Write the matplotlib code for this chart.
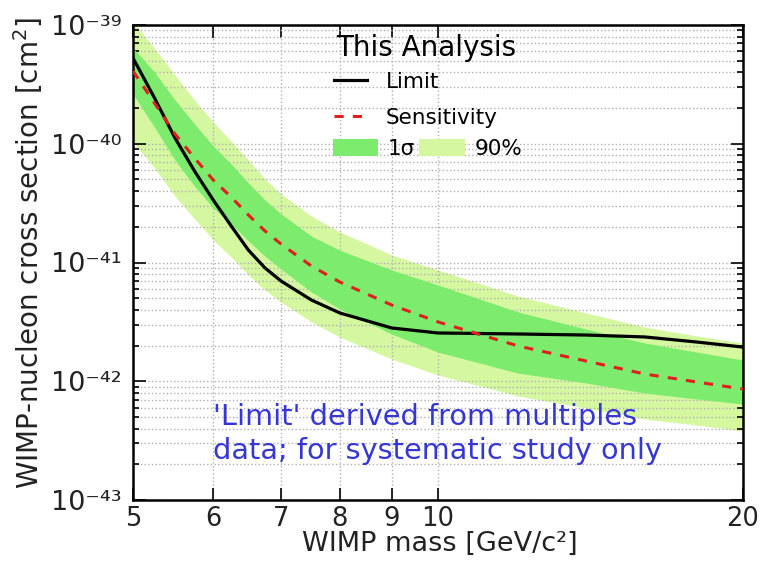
import matplotlib
matplotlib.use('Agg')
import matplotlib.pyplot as plt
from matplotlib.lines import Line2D
from matplotlib.patches import Patch
from matplotlib.ticker import FixedLocator, FixedFormatter, LogLocator, NullFormatter, NullLocator

# WIMP mass [GeV/c^2]
mass = [5, 5.25, 5.5, 5.75, 6, 6.25, 6.5, 6.75, 7, 7.5, 8, 9, 10, 12, 14, 16, 18, 20]

# cross sections [cm^2]
limit = [5.27e-40, 2.43e-40, 1.12e-40, 5.89e-41, 3.36e-41, 2.03e-41, 1.27e-41, 8.99e-42,
         6.98e-42, 4.83e-42, 3.76e-42, 2.81e-42, 2.55e-42, 2.50e-42, 2.45e-42, 2.36e-42,
         2.14e-42, 1.94e-42]
sensitivity = [4.10e-40, 2.20e-40, 1.21e-40, 7.59e-41, 4.95e-41, 3.56e-41, 2.51e-41, 1.84e-41,
               1.43e-41, 9.34e-42, 6.85e-42, 4.39e-42, 3.16e-42, 1.98e-42, 1.48e-42, 1.15e-42,
               9.86e-43, 8.60e-43]
sigma1_low = [2.62e-40, 1.38e-40, 7.30e-41, 4.41e-41, 2.88e-41, 2.11e-41, 1.52e-41, 1.13e-41,
              8.82e-42, 5.65e-42, 4.06e-42, 2.50e-42, 1.76e-42, 1.17e-42, 9.67e-43, 7.96e-43,
              7.09e-43, 6.43e-43]
sigma1_high = [6.40e-40, 4.02e-40, 2.34e-40, 1.47e-40, 9.57e-41, 6.75e-41, 4.67e-41, 3.36e-41,
               2.56e-41, 1.67e-41, 1.27e-41, 8.65e-42, 6.46e-42, 3.83e-42, 2.75e-42, 2.10e-42,
               1.76e-42, 1.51e-42]
cl90_low = [1.03e-40, 6.25e-41, 3.63e-41, 2.33e-41, 1.55e-41, 1.11e-41, 7.85e-42, 5.87e-42,
            4.65e-42, 3.16e-42, 2.36e-42, 1.54e-42, 1.13e-42, 7.51e-43, 5.95e-43, 4.81e-43,
            4.28e-43, 3.81e-43]
cl90_high = [1.06e-39, 6.40e-40, 3.79e-40, 2.34e-40, 1.52e-40, 1.05e-40, 7.30e-41, 5.05e-41,
             3.78e-41, 2.46e-41, 1.81e-41, 1.16e-41, 8.65e-42, 5.22e-42, 3.76e-42, 2.86e-42,
             2.41e-42, 2.10e-42]

xticks = [5, 6, 7, 8, 9, 10, 20]
xtick_labels = ['5', '6', '7', '8', '9', '10', '20']
yticks = [1e-43, 1e-42, 1e-41, 1e-40, 1e-39]
ytick_labels = ['10\u207b\u2074\u00b3', '10\u207b\u2074\u00b2', '10\u207b\u2074\u00b9',
                '10\u207b\u2074\u2070', '10\u207b\u00b3\u2079']

c_1sig = '#7deb6e'
c_90 = '#d5f7a0'
c_sens = '#e02020'

plt.rcParams['font.family'] = ['DejaVu Sans']
plt.rcParams['mathtext.fontset'] = 'dejavusans'

fig = plt.figure(figsize=(7.75, 5.61), dpi=100)
W, H = 775, 561
ax = fig.add_axes([133 / W, 1 - 500 / H, (743 - 133) / W, (500 - 25) / H])

ax.fill_between(mass, cl90_low, cl90_high, color=c_90, lw=0, zorder=1)
ax.fill_between(mass, sigma1_low, sigma1_high, color=c_1sig, lw=0, zorder=2)
ax.plot(mass, limit, color='black', lw=2.3, zorder=4)
ax.plot(mass, sensitivity, color=c_sens, lw=2.2, dashes=(3, 3), zorder=5)

ax.set_xscale('log')
ax.set_yscale('log')
ax.set_xlim(5, 20)
ax.set_ylim(1e-43, 1e-39)

ax.xaxis.set_major_locator(FixedLocator(xticks))
ax.xaxis.set_major_formatter(FixedFormatter(xtick_labels))
ax.xaxis.set_minor_locator(NullLocator())
ax.yaxis.set_major_locator(FixedLocator(yticks))
ax.yaxis.set_major_formatter(FixedFormatter(ytick_labels))
ax.yaxis.set_minor_locator(LogLocator(base=10, subs=range(2, 10), numticks=20))
ax.yaxis.set_minor_formatter(NullFormatter())

ax.tick_params(which='both', direction='in', top=True, right=True,
               width=1.2, labelcolor='#222222')
ax.tick_params(axis='y', labelsize=19.5)
ax.tick_params(axis='x', labelsize=18.5)
ax.tick_params(which='major', length=9)
ax.tick_params(axis='x', which='major', pad=4)
ax.tick_params(axis='y', which='major', pad=8)
ax.tick_params(which='minor', length=4.5)
for s in ax.spines.values():
    s.set_linewidth(1.8)

ax.grid(True, which='major', axis='x', ls=':', color='#b0b0b0', lw=1.0)
ax.grid(True, which='both', axis='y', ls=':', color='#b0b0b0', lw=1.0)
for gl in ax.get_xgridlines() + ax.get_ygridlines():
    gl.set_zorder(3)

ax.set_xlabel('WIMP mass [GeV/c\u00b2]', fontsize=19.5, color='#222222')
ax.xaxis.set_label_coords(0.503, -0.066)
ax.set_ylabel('WIMP-nucleon cross section [cm$^2$]', fontsize=20, color='#222222')
ax.yaxis.set_label_coords(-0.145, 0.52)

ax.text(0.131, 0.139, "'Limit' derived from multiples\ndata; for systematic study only",
        transform=ax.transAxes, fontsize=20.7, color='#3636d4', ha='left', va='center',
        linespacing=1.3, zorder=6)

fig.text(426 / W, 1 - 48 / H, 'This Analysis', fontsize=20, color='black',
         ha='center', va='center')

h1 = [Line2D([], [], color='black', lw=2.3),
      Line2D([], [], color=c_sens, lw=2.2, dashes=(3, 3))]
leg1 = fig.legend(h1, ['Limit', 'Sensitivity'],
                  loc='upper left', bbox_to_anchor=(334 / W, 1 - 72 / H),
                  frameon=False, fontsize=15.5,
                  handlelength=1.55, handletextpad=0.85, labelspacing=0.72,
                  borderpad=0, borderaxespad=0)

h2 = [Patch(color=c_1sig, lw=0), Patch(color=c_90, lw=0)]
leg2 = fig.legend(h2, ['1σ', '90%'], ncol=2,
                  loc='upper left', bbox_to_anchor=(333 / W, 1 - 139 / H),
                  frameon=False, fontsize=15.5, handlelength=2.1, handleheight=0.8,
                  handletextpad=0.45, columnspacing=0.2, borderpad=0, borderaxespad=0)

fig.savefig('out.png', dpi=100)
